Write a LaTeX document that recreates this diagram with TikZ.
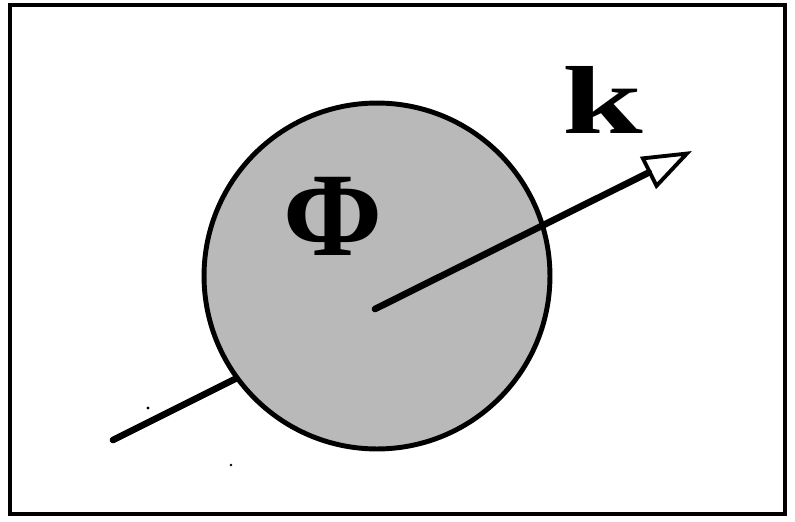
\documentclass[tikz,border=0pt]{standalone}
\usepackage{fontspec}
\setmainfont{Liberation Serif}
\usetikzlibrary{arrows.meta,positioning}
\tikzset{
  frameln/.style={line width=1.9pt},
  beamln/.style={line width=3.8pt, line cap=round},
  beamarrow/.style={-{Triangle[open, length=28pt, width=20pt, line width=2.2pt]}, line width=3.8pt, line cap=round},
  blob/.style={circle, draw, line width=2.8pt, fill=gray!55, minimum size=6.92cm, inner sep=0pt},
  biglbl/.style={font=\bfseries, inner sep=0pt, anchor=base},
}
\begin{document}
\begin{tikzpicture}[x=0.02cm, y=-0.02cm]
    \useasboundingbox (0,0) rectangle (795,521);
    % --- frame ---
    \draw[frameln] (10,5) rectangle (785,514);
    % --- incoming part of the beam, hidden behind the region ---
    \coordinate (tail) at (113,440);
    \coordinate (start) at (375,309);
    \coordinate (tip) at (692,151);
    \draw[beamln] (tail) -- (start);
    % --- scattering region ---
    \node[blob] (region) at (377,276) {};
    \node[biglbl] (phi) at (333,255) {\fontsize{68}{68}\selectfont Φ};
    % --- outgoing wave vector ---
    \draw[beamarrow] (start) -- (tip);
    \node[biglbl] (kvec) at (603,133) {\scalebox{1.5}[1]{\fontsize{55}{55}\selectfont k}};
    % --- specks ---
    \fill (148,408) circle (1.6);
    \fill (231,465) circle (1.4);
\end{tikzpicture}
\end{document}
